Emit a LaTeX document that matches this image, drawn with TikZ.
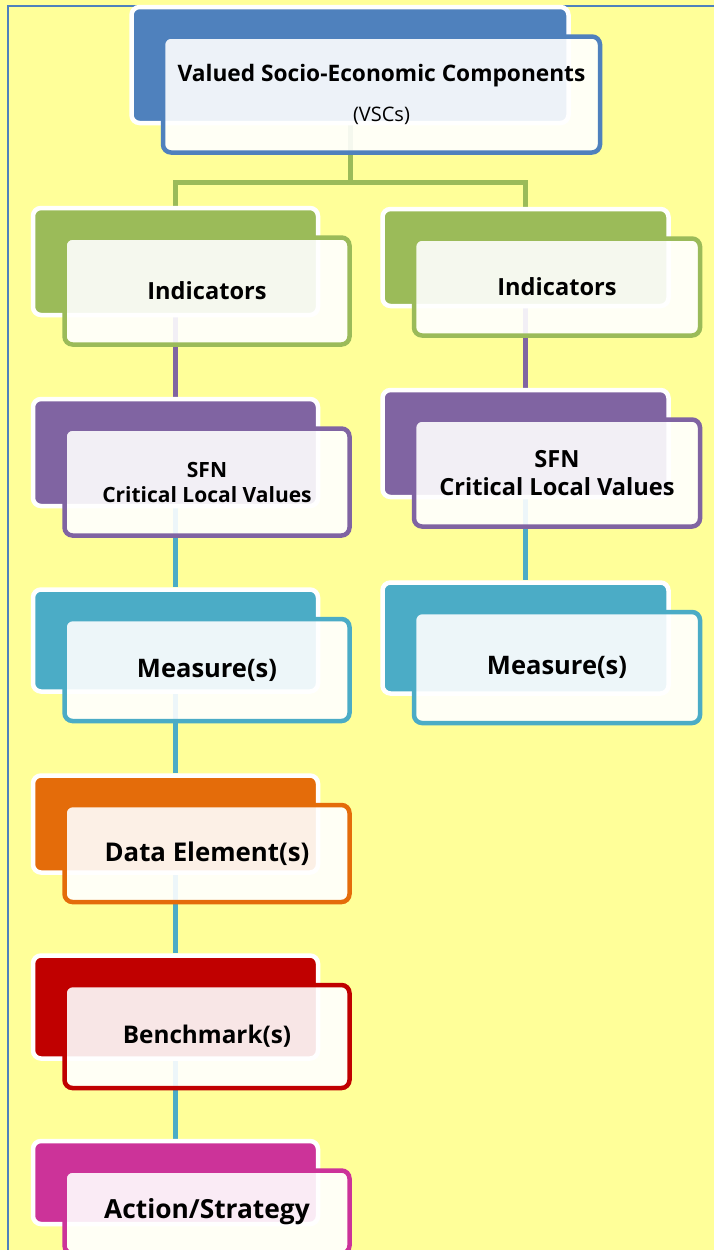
\documentclass[tikz,border=0pt]{standalone}
\usepackage{fontspec}
\setmainfont{Open Sans}
\pgfdeclarelayer{bg}
\pgfsetlayers{bg,main}
\definecolor{paper}{HTML}{FFFF99}
\definecolor{tierblue}{HTML}{4F81BD}
\definecolor{tiergreen}{HTML}{9BBB59}
\definecolor{tierpurple}{HTML}{8064A2}
\definecolor{tierteal}{HTML}{4BACC6}
\definecolor{tierorange}{HTML}{E46C0A}
\definecolor{tierred}{HTML}{C00000}
\definecolor{tiermagenta}{HTML}{CC3399}
\tikzset{
  tierback/.style={rectangle, rounded corners=8pt, draw=white, line width=4.5pt, inner sep=0pt},
  tierfront/.style={rectangle, rounded corners=8pt, line width=4.5pt, fill=white, fill opacity=0.9,
    text opacity=1, inner sep=0pt, align=center},
  link/.style={line width=5pt},
}
\newcommand{\tierbox}[7][285]% width, name, back centre, height, colour, text options, text
{\node[tierback, fill=#5, minimum width=#1, minimum height=#4] (#2-b) at (#3) {};
 \node[tierfront, draw=#5, minimum width=#1, minimum height=#4, #6] (#2-f)
   at ([shift={(31.5,29.5)}]#2-b.center) {#7};
}

\begin{document}
\begin{tikzpicture}[x=1pt, y=-1pt]
	\useasboundingbox (0,0) rectangle (714,1250);
	\begin{pgfonlayer}{bg}
	\fill[paper] (0,0) rectangle (714,1250);
	\draw[tierblue, line width=2pt] (7.5,1250) |- (714,6);
	\end{pgfonlayer}
	% top
	\tierbox[437]{vsc}{350,65}{116}{tierblue}{font=\bfseries\fontsize{22.7}{26}\selectfont}%
	  {Valued Socio-Economic Components\\[14pt]{\normalfont\fontsize{20}{24}\selectfont (VSCs)}}
	% left column
	\tierbox{indL}{175.5,261.5}{107}{tiergreen}{font=\bfseries\fontsize{23.6}{28}\selectfont}{Indicators}
	\tierbox{sfnL}{175.5,452.5}{107}{tierpurple}{font=\bfseries\fontsize{21}{25}\selectfont}{SFN\\Critical Local Values}
	\tierbox{meaL}{175.5,640.5}{102}{tierteal}{font=\bfseries\fontsize{25.5}{30}\selectfont}{Measure(s)}
	\tierbox{datL}{175.5,824}{97}{tierorange}{font=\bfseries\fontsize{25.8}{30}\selectfont}{Data Element(s)}
	\tierbox{benL}{175.5,1007}{103}{tierred}{font=\bfseries\fontsize{24.3}{29}\selectfont}{Benchmark(s)}
	\tierbox{actL}{175.5,1182.5}{83}{tiermagenta}{font=\bfseries\fontsize{26.3}{31}\selectfont}{Action/Strategy}
	% right column
	\tierbox[286]{indR}{525.5,257.5}{97}{tiergreen}{font=\bfseries\fontsize{23.6}{28}\selectfont}{Indicators}
	\tierbox[286]{sfnR}{525.5,443.5}{107}{tierpurple}{font=\bfseries\fontsize{23.6}{28}\selectfont}{SFN\\Critical Local Values}
	\tierbox[286]{meaR}{525.5,638}{111}{tierteal}{font=\bfseries\fontsize{25.5}{30}\selectfont}{Measure(s)}
	% connectors
	\begin{pgfonlayer}{bg}
	\coordinate (fork) at (350,182);
	\draw[link, tiergreen] (vsc-b.south) -- (fork) -| (indL-b.north);
	\draw[link, tiergreen] (fork) -| (indR-b.north);
	\draw[link, tierpurple] (indL-b.south) -- (sfnL-b.north);
	\draw[link, tierteal] (sfnL-b.south) -- (meaL-b.north);
	\draw[link, tierteal] (meaL-b.south) -- (datL-b.north);
	\draw[link, tierteal] (datL-b.south) -- (benL-b.north);
	\draw[link, tierteal] (benL-b.south) -- (actL-b.north);
	\draw[link, tierpurple] (indR-b.south) -- (sfnR-b.north);
	\draw[link, tierteal] (sfnR-b.south) -- (meaR-b.north);
	\end{pgfonlayer}
\end{tikzpicture}
\end{document}
